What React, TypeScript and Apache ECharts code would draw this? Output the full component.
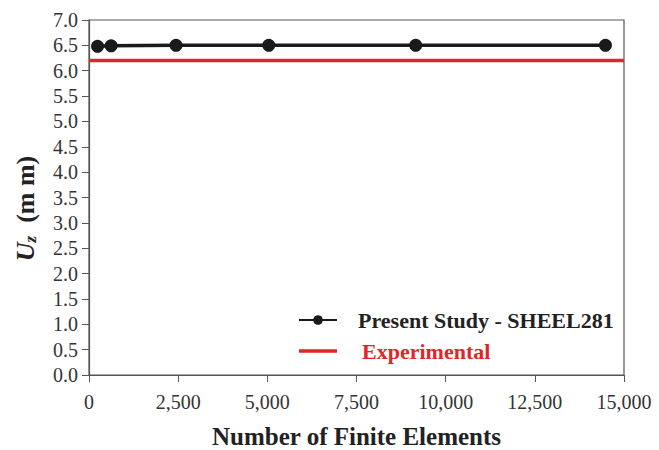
import React, { useEffect, useRef } from "react";
import * as echarts from "echarts";

const elements = [240, 620, 2440, 5040, 9160, 14480];
const uzPresent = [6.48, 6.49, 6.5, 6.5, 6.5, 6.5];
const experimentalX = [0, 15000];
const experimentalValue = 6.2;

const FONT = "Liberation Serif";

export default function App() {
  const ref = useRef<HTMLDivElement>(null);
  useEffect(() => {
    if (!ref.current) return;
    const chart = echarts.init(ref.current, undefined, { renderer: "svg" });
    chart.setOption({
      animation: false,
      backgroundColor: "#fff",
      grid: {
        left: 89,
        right: 35,
        top: 20,
        bottom: 75,
        show: true,
        borderColor: "#555",
        borderWidth: 1.2,
        outerBoundsMode: "none",
        containLabel: false,
      },
      legend: {
        orient: "vertical",
        left: 298,
        top: 309,
        padding: 0,
        itemWidth: 38,
        itemHeight: 12,
        itemGap: 9,
        textStyle: { fontFamily: FONT, fontWeight: "bold", fontSize: 22, color: "#222" },
        data: [
          { name: "Present Study - SHEEL281", textStyle: { padding: [0, 0, 0, 16] } },
          {
            name: "Experimental",
            icon: "path://M0,0 H40 V3.5 H0 Z",
            textStyle: { color: "#e02626", padding: [0, 0, 0, 20] },
          },
        ],
      },
      xAxis: {
        type: "value",
        min: 0,
        max: 15000,
        interval: 2500,
        name: "Number of Finite Elements",
        nameLocation: "middle",
        nameGap: 49,
        nameTextStyle: { fontFamily: FONT, fontWeight: "bold", fontSize: 25, color: "#222" },
        axisLine: { show: true, lineStyle: { color: "#555", width: 1.2 } },
        axisTick: { show: true, length: 7, lineStyle: { color: "#555" } },
        axisLabel: {
          fontFamily: FONT,
          fontSize: 20,
          color: "#333",
          margin: 17,
          formatter: (v: number) => v.toLocaleString("en-US"),
        },
        splitLine: { show: false },
      },
      yAxis: {
        type: "value",
        min: 0,
        max: 7,
        interval: 0.5,
        name: "{u|U}{z|z}{n|  (m m)}",
        nameLocation: "middle",
        nameGap: 50,
        nameRotate: 90,
        nameTextStyle: {
          fontFamily: FONT,
          fontWeight: "bold",
          fontSize: 26,
          color: "#222",
          padding: [0, 22, 0, 0],
          rich: {
            u: { fontFamily: FONT, fontWeight: "bold", fontStyle: "italic", fontSize: 26, color: "#222" },
            z: { fontFamily: FONT, fontWeight: "bold", fontStyle: "italic", fontSize: 17, color: "#222", verticalAlign: "bottom", padding: [10, 0, 0, 0] },
            n: { fontFamily: FONT, fontWeight: "bold", fontSize: 26, color: "#222" },
          },
        },
        axisLine: { show: true, lineStyle: { color: "#555", width: 1.2 } },
        axisTick: { show: true, length: 7, lineStyle: { color: "#555" } },
        axisLabel: {
          fontFamily: FONT,
          fontSize: 20,
          color: "#333",
          margin: 11,
          formatter: (v: number) => v.toFixed(1),
        },
        splitLine: { show: false },
      },
      series: [
        {
          name: "Present Study - SHEEL281",
          type: "line",
          data: elements.map((x, i) => [x, uzPresent[i]]),
          symbol: "circle",
          symbolSize: 13,
          itemStyle: { color: "#1a1a1a" },
          lineStyle: { color: "#1a1a1a", width: 3.5 },
          z: 3,
        },
        {
          name: "Experimental",
          type: "line",
          data: experimentalX.map((x) => [x, experimentalValue]),
          symbol: "none",
          itemStyle: { color: "#e02626" },
          lineStyle: { color: "#e02626", width: 3.5 },
          z: 2,
        },
      ],
    });
    return () => chart.dispose();
  }, []);
  return (
    <div
      ref={ref}
      style={{ position: "fixed", left: 0, top: 0, width: 659, height: 450 }}
    />
  );
}
